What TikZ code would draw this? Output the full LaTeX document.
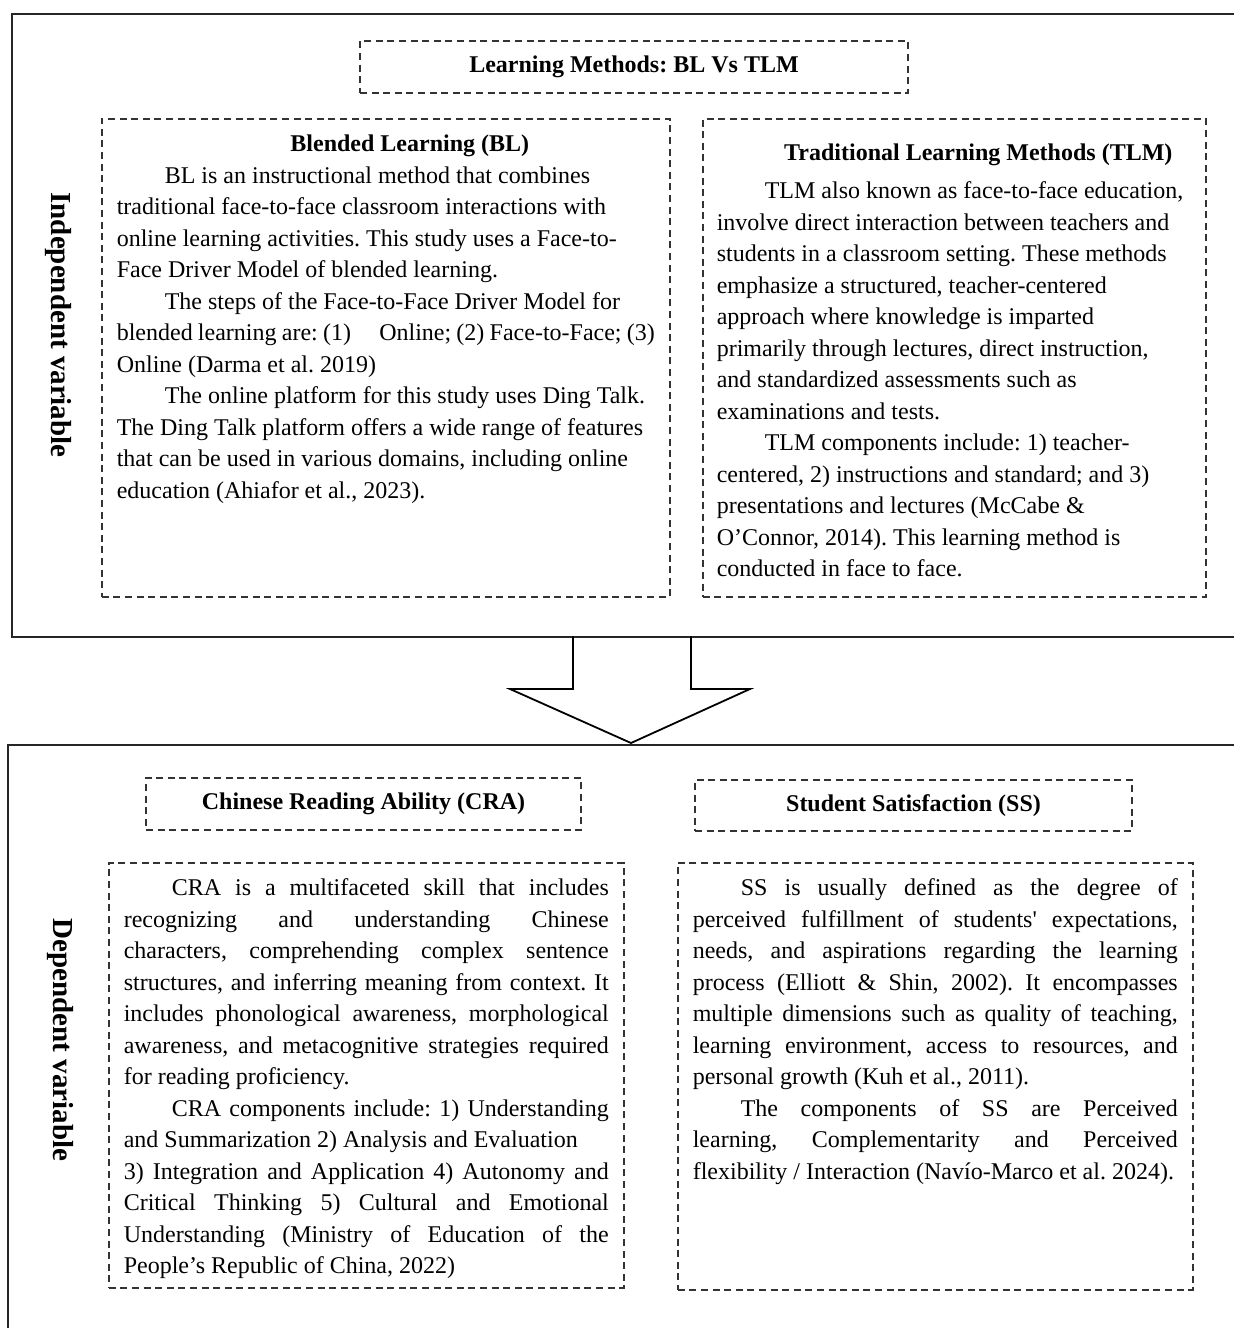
\documentclass[tikz,border=0pt]{standalone}
\usepackage{fontspec}
\setmainfont{Liberation Serif}
\usetikzlibrary{positioning}
\frenchspacing
% one justified line of a boxed paragraph
\newcommand{\jline}[1]{\makebox[\linewidth][s]{#1}}

\begin{document}
\begin{tikzpicture}[
  x=0.5pt, y=-0.5pt,
  font=\fontsize{12pt}{15.75pt}\selectfont,
  frame/.style={draw=black!85, line width=0.9pt, inner sep=0pt, anchor=north west},
  dbox/.style={draw=black!80, line width=0.8pt, dash pattern=on 3.5pt off 2.3pt},
  headbox/.style={dbox, minimum height=26pt, inner sep=0pt,
    font=\fontsize{12pt}{15.75pt}\selectfont\bfseries},
  % text height/depth fix where the first baseline and the bottom edge sit;
  % plain word spaces, so Liberation Serif keeps the Times widths
  bodybox/.style={dbox, anchor=north west, align=justify, inner xsep=7.5pt, inner ysep=0pt,
    execute at begin node={\spaceskip=0pt\xspaceskip=0pt\relax}},
  sidelabel/.style={rotate=-90, inner sep=0pt, font=\fontsize{14.5pt}{17pt}\selectfont\bfseries},
  bigarrow/.style={draw=black, line width=0.9pt, line join=miter}
]
\useasboundingbox (0,0) rectangle (1234,1328);
\clip (0,0) rectangle (1234,1328);

\node[frame, minimum width=624.5pt, minimum height=311.5pt] (indep) at (11,13) {};
\node[frame, minimum width=626.5pt, minimum height=303pt] (dep) at (7,744) {};

\node[sidelabel] (indlabel) at (58,325) {Independent variable};
\node[sidelabel] (deplabel) at (60,1040) {Dependent variable};

\node[headbox, minimum width=274pt] (methods) at (634,67) {Learning Methods: BL Vs TLM};

\node[bodybox, text width=269pt, text height=16.5pt, text depth=222.5pt] (bl) at (101,118)
{\makebox[\linewidth]{\hspace{24pt}\textbf{Blended Learning (BL)}}\\
\hspace*{24pt}BL is an instructional method that combines\\
traditional face-to-face classroom interactions with\\
online learning activities. This study uses a Face-to-\\
Face Driver Model of blended learning.\\
\hspace*{24pt}The steps of the Face-to-Face Driver Model for\\
blended learning are: (1)\hspace{11.5pt} Online; (2) Face-to-Face; (3)\\
Online (Darma et al. 2019)\\
\hspace*{24pt}The online platform for this study uses Ding Talk.\\
The Ding Talk platform offers a wide range of features\\
that can be used in various domains, including online\\
education (Ahiafor et al., 2023).};

\node[bodybox, inner xsep=7pt, text width=237.5pt, text height=21pt, text depth=218pt] (tlm) at (702,118)
{\makebox[\linewidth]{\hspace{24pt}\textbf{Traditional Learning Methods (TLM)}}\\[3.25pt]
\hspace*{24pt}TLM also known as face-to-face education,\\
involve direct interaction between teachers and\\
students in a classroom setting. These methods\\
emphasize a structured, teacher-centered\\
approach where knowledge is imparted\\
primarily through lectures, direct instruction,\\
and standardized assessments such as\\
examinations and tests.\\
\hspace*{24pt}TLM components include: 1) teacher-\\
centered, 2) instructions and standard; and 3)\\
presentations and lectures (McCabe \&\\
O'Connor, 2014). This learning method is\\
conducted in face to face.};

\coordinate (tip) at (631,743);
\draw[bigarrow] (573,636) -- (573,689) -- (510,689) -- (tip)
  -- (750,689) -- (691,689) -- (691,636);

\node[headbox, minimum width=217.5pt] (crahead) at (363.5,804) {Chinese Reading Ability (CRA)};
\node[headbox, minimum width=218.5pt, minimum height=25.5pt] (sshead) at (913.5,805.5) {Student Satisfaction (SS)};

\node[bodybox, text width=242.5pt, text height=16.5pt, text depth=196pt] (cra) at (108,862)
{\jline{\hspace*{24pt}CRA is a multifaceted skill that includes}\\
\jline{recognizing and understanding Chinese}\\
\jline{characters, comprehending complex sentence}\\
\jline{structures, and inferring meaning from context. It}\\
\jline{includes phonological awareness, morphological}\\
\jline{awareness, and metacognitive strategies required}\\
for reading proficiency.\\
\jline{\hspace*{24pt}CRA components include: 1) Understanding}\\
and Summarization 2) Analysis and Evaluation\\
\jline{3) Integration and Application 4) Autonomy and}\\
\jline{Critical Thinking 5) Cultural and Emotional}\\
\jline{Understanding (Ministry of Education of the}\\
People's Republic of China, 2022)};

\node[bodybox, text width=242.5pt, text height=16.5pt, text depth=197pt] (ss) at (677,862)
{\jline{\hspace*{24pt}SS is usually defined as the degree of}\\
\jline{perceived fulfillment of students\textquotesingle{} expectations,}\\
\jline{needs, and aspirations regarding the learning}\\
\jline{process (Elliott \& Shin, 2002). It encompasses}\\
\jline{multiple dimensions such as quality of teaching,}\\
\jline{learning environment, access to resources, and}\\
personal growth (Kuh et al., 2011).\\
\jline{\hspace*{24pt}The components of SS are Perceived}\\
\jline{learning, Complementarity and Perceived}\\
flexibility / Interaction (Navío-Marco et al. 2024).};
\end{tikzpicture}
\end{document}
